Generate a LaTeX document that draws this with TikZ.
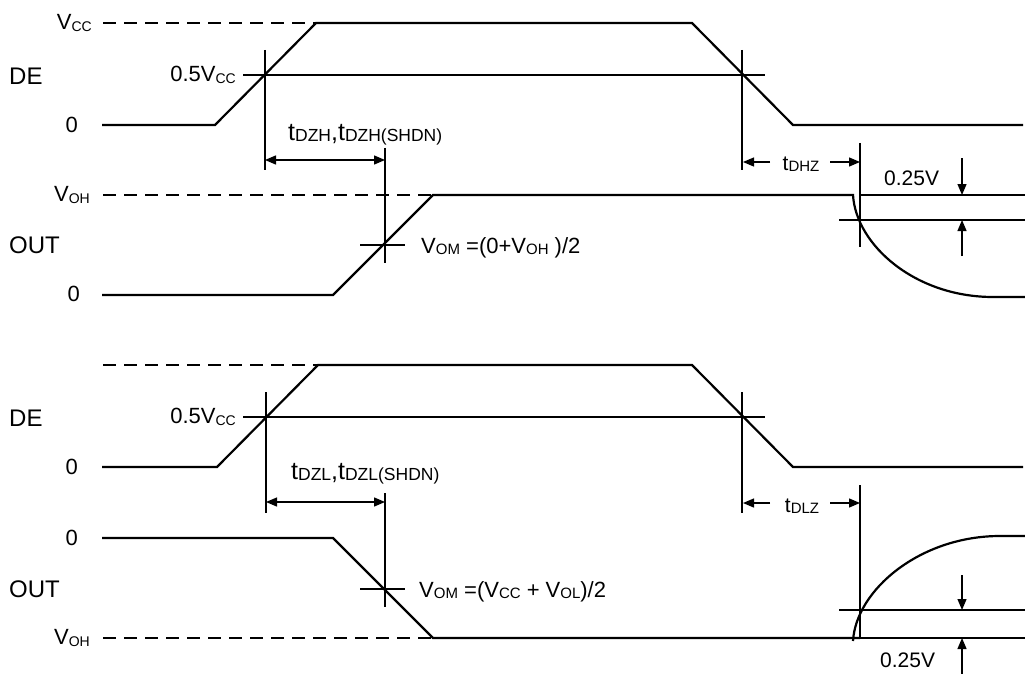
\documentclass[tikz,border=0pt]{standalone}
\usepackage{fontspec}
\setmainfont{Liberation Sans}
\usetikzlibrary{arrows.meta}
\newcommand{\sbs}[2]{\raisebox{-1.5pt}{\fontsize{#1}{#1}\selectfont #2}}
\tikzset{
  sig/.style={line width=2.2pt, line join=miter},
  thinln/.style={line width=1.3pt},
  dsh/.style={line width=1.3pt, dash pattern=on 13pt off 8pt},
  arr/.style={thinln, -{Triangle[length=11pt,width=9pt]}},
  darr/.style={thinln, {Triangle[length=11pt,width=9pt]}-{Triangle[length=11pt,width=9pt]}},
  lbl/.style={inner sep=0pt, font=\fontsize{22}{22}\selectfont},
  big/.style={inner sep=0pt, font=\fontsize{24}{24}\selectfont},
}
\begin{document}
\begin{tikzpicture}[x=1pt,y=-1pt]
\useasboundingbox (0,0) rectangle (1025,674);

% ================= TOP HALF =================
% DE labels
\node[big, anchor=west] (de1) at (9,76) {DE};
\node[lbl, anchor=east] (vcc1) at (92,23) {V\sbs{14}{CC}};
\node[lbl, anchor=east] (half1) at (236,75) {0.5V\sbs{14}{CC}};
\node[lbl, anchor=east] (zero1) at (78,125) {0};
% DE waveform
\draw[dsh] (103,23) -- (316,23);
\draw[sig] (102,125) -- (215,125) -- (316,23) -- (692,23) -- (793,125) -- (1023,125);
\draw[thinln] (243,75) -- (765,75);
\coordinate (r1) at (265,75);
\coordinate (f1) at (742,75);
\draw[thinln] (265,50) -- (265,170);
\draw[thinln] (742,50) -- (742,170);
% t_DZH
\draw[darr] (265,160) -- (385,160);
\node[inner sep=0pt, anchor=base west, font=\fontsize{25}{25}\selectfont] (tdzh) at (288,140)
  {t\sbs{17.5}{DZH},t\sbs{17.5}{DZH(SHDN)}};
% OUT labels
\node[big, anchor=west] (out1) at (9,245) {OUT};
\node[lbl, anchor=east] (voh1) at (90,195) {V\sbs{14}{OH}};
\node[lbl, anchor=east] (zero2) at (80,294) {0};
% OUT waveform
\draw[dsh] (103,195) -- (433,195);
\draw[sig] (102,295) -- (333,295) -- (433,195) -- (853,195)
  .. controls (856,245) and (915,297) .. (993,297) -- (1025,297);
\draw[thinln] (385,148) -- (385,263);
\draw[thinln] (360,245) -- (405,245);
\node[inner sep=0pt, anchor=base west, font=\fontsize{22}{22}\selectfont] (vom1) at (421,253)
  {V\sbs{15}{OM} =(0+V\sbs{15}{OH} )/2};
% t_DHZ
\draw[thinln] (860,143) -- (860,247);
\draw[arr] (770,162) -- (743,162);
\draw[arr] (830,162) -- (860,162);
\node[inner sep=0pt, anchor=base, font=\fontsize{21}{21}\selectfont] (tdhz) at (801,170) {t\sbs{15}{DHZ}};
% 0.25V
\draw[thinln] (860,195) -- (1025,195);
\draw[thinln] (839,220) -- (1025,220);
\draw[arr] (962,158) -- (962,195);
\draw[arr] (962,256) -- (962,220);
\node[inner sep=0pt, anchor=base west, font=\fontsize{21}{21}\selectfont] (q1) at (884,185) {0.25V};

% ================= BOTTOM HALF =================
\node[big, anchor=west] (de2) at (9,418) {DE};
\node[lbl, anchor=east] (half2) at (236,417) {0.5V\sbs{14}{CC}};
\node[lbl, anchor=east] (zero3) at (78,467) {0};
\draw[dsh] (103,365) -- (318,365);
\draw[sig] (102,467) -- (217,467) -- (318,365) -- (692,365) -- (793,467) -- (1023,467);
\draw[thinln] (243,417) -- (765,417);
\draw[thinln] (266,392) -- (266,513);
\draw[thinln] (742,392) -- (742,513);
% t_DZL
\draw[darr] (266,502) -- (385,502);
\node[inner sep=0pt, anchor=base west, font=\fontsize{25}{25}\selectfont] (tdzl) at (291,479)
  {t\sbs{17.5}{DZL},t\sbs{17.5}{DZL(SHDN)}};
% OUT labels
\node[lbl, anchor=east] (zero4) at (78,538) {0};
\node[big, anchor=west] (out2) at (9,589) {OUT};
\node[lbl, anchor=east] (voh2) at (90,638) {V\sbs{14}{OH}};
% OUT waveform
\draw[dsh] (103,638) -- (433,638);
\draw[sig] (102,538) -- (333,538) -- (433,638) -- (860,638);
\draw[sig] (853,641) .. controls (856,590) and (920,536) .. (1000,536) -- (1025,536);
\draw[thinln] (385,493) -- (385,607);
\draw[thinln] (360,589) -- (405,589);
\node[inner sep=0pt, anchor=base west, font=\fontsize{22}{22}\selectfont] (vom2) at (419,597)
  {V\sbs{15}{OM} =(V\sbs{15}{CC} + V\sbs{15}{OL})/2};
% t_DLZ
\draw[thinln] (860,485) -- (860,638);
\draw[arr] (770,503) -- (743,503);
\draw[arr] (830,503) -- (860,503);
\node[inner sep=0pt, anchor=base, font=\fontsize{21}{21}\selectfont] (tdlz) at (802,512) {t\sbs{15}{DLZ}};
% 0.25V
\draw[thinln] (860,638) -- (1025,638);
\draw[thinln] (839,610) -- (1025,610);
\draw[arr] (962,575) -- (962,610);
\draw[arr] (962,674) -- (962,638);
\node[inner sep=0pt, anchor=base west, font=\fontsize{21}{21}\selectfont] (q2) at (880,667) {0.25V};
\end{tikzpicture}
\end{document}
